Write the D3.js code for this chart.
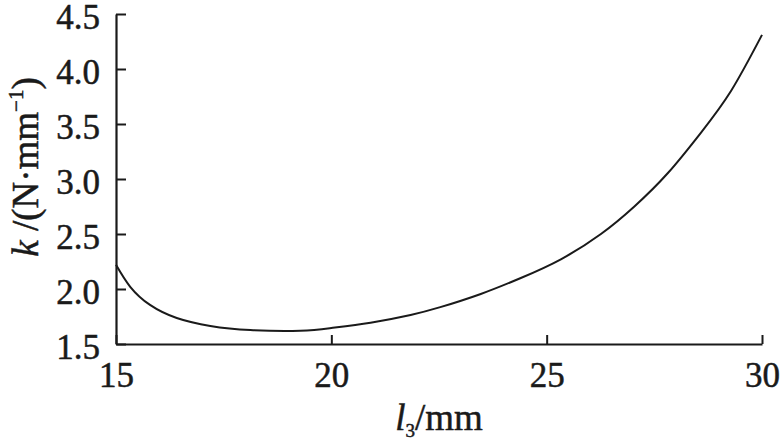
<!DOCTYPE html>
<html>
<head>
<meta charset="utf-8">
<script src="https://cdn.jsdelivr.net/npm/d3@7"></script>
<style>
  body { margin: 0; background: #fff; }
  svg { display: block; font-family: "Liberation Serif", "DejaVu Serif", serif; }
</style>
</head>
<body>
<svg width="784" height="442"></svg>
<script>
// values, l3 in mm and k in N/mm
const l3 = [15, 15.33, 15.79, 16.41, 17.19, 18.12, 19.28, 20, 20.91, 21.84, 22.53, 23.47, 24.4, 25.33, 26.26, 27.03, 27.81, 28.58, 29.28, 30];
const k = [2.22, 2.02, 1.855, 1.736, 1.664, 1.627, 1.621, 1.645, 1.694, 1.764, 1.835, 1.955, 2.1, 2.27, 2.5, 2.748, 3.052, 3.42, 3.8, 4.31];
const xTicks = [15, 20, 25, 30];
const yTicks = [1.5, 2.0, 2.5, 3.0, 3.5, 4.0, 4.5];

let svg = d3.select("svg"),
    margin = {top: 14, right: 22, bottom: 98, left: 116},
    width = +svg.attr("width") - margin.left - margin.right,
    height = +svg.attr("height") - margin.top - margin.bottom;

let x = d3.scaleLinear().domain([15, 30]).range([0, width]);
let y = d3.scaleLinear().domain([1.5, 4.5]).range([height, 0]);

let g = svg.append("g").attr("transform", "translate(" + margin.left + "," + margin.top + ")");

// axes with ticks pointing inward
let xAxis = g.append("g")
    .attr("transform", "translate(0," + height + ")")
    .call(d3.axisBottom(x).tickValues(xTicks).tickSizeInner(-9).tickSizeOuter(0).tickPadding(18).tickFormat(d3.format("d")));

let yAxis = g.append("g")
    .call(d3.axisLeft(y).tickValues(yTicks).tickSizeInner(-10).tickSizeOuter(0).tickPadding(16).tickFormat(d3.format(".1f")));

[xAxis, yAxis].forEach(function (a) {
    a.select(".domain").attr("stroke", "#1a1a1a").attr("stroke-width", 2.2);
    a.selectAll(".tick line").attr("stroke", "#1a1a1a").attr("stroke-width", 2);
    a.selectAll(".tick text")
        .attr("fill", "#1a1a1a")
        .attr("stroke", "#1a1a1a")
        .attr("stroke-width", 0.5)
        .style("font-family", "'Liberation Serif', serif")
        .style("font-size", "35px");
});
yAxis.selectAll(".tick text").attr("dy", "0.4em");
xAxis.selectAll(".tick text").attr("dy", "0.71em");

let line = d3.line()
    .x(function (d, i) { return x(l3[i]); })
    .y(function (d) { return y(d); })
    .curve(d3.curveNatural);

g.append("path")
    .datum(k)
    .attr("fill", "none")
    .attr("stroke", "#1a1a1a")
    .attr("stroke-width", 2)
    .attr("d", line);

// x axis title
let xt = svg.append("text")
    .attr("x", 439)
    .attr("y", 430)
    .attr("text-anchor", "middle")
    .attr("fill", "#1a1a1a")
    .attr("stroke", "#1a1a1a")
    .attr("stroke-width", 0.5)
    .style("font-size", "37px");
xt.append("tspan").attr("font-style", "italic").text("l");
xt.append("tspan").attr("font-size", "19px").attr("dy", 7).text("3");
xt.append("tspan").attr("dy", -7).text("/mm");

// y axis title
let yt = svg.append("text")
    .attr("transform", "translate(38,167) rotate(-90)")
    .attr("text-anchor", "middle")
    .attr("fill", "#1a1a1a")
    .attr("stroke", "#1a1a1a")
    .attr("stroke-width", 0.5)
    .style("font-size", "37px");
yt.append("tspan").attr("font-style", "italic").text("k");
yt.append("tspan").text(" /(N·mm");
yt.append("tspan").attr("font-size", "21px").attr("dy", -15).text("−1");
yt.append("tspan").attr("dy", 15).text(")");
</script>
</body>
</html>
